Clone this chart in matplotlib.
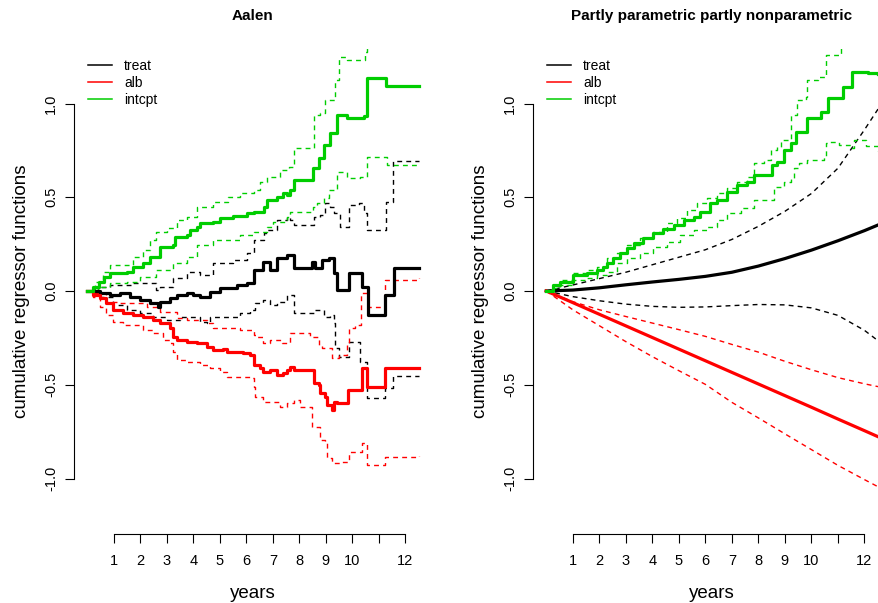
import matplotlib.pyplot as plt

plt.rcParams['font.family'] = ['Liberation Sans', 'DejaVu Sans']
plt.rcParams['axes.unicode_minus'] = False

GREEN = '#00CD00'
RED = '#FF0000'
BLACK = '#000000'

# ---- Aalen model: step functions, (years, value) at each jump ----
aalen_treat = [(0, 0), (0.47, -0.01), (0.85, -0.02), (1.23, -0.01), (1.60, -0.03), (1.98, -0.05),
               (2.36, -0.064), (2.66, -0.084), (2.74, -0.057), (3.12, -0.039), (3.37, -0.021),
               (3.75, -0.012), (3.99, -0.02), (4.25, -0.03), (4.63, -0.004), (5.01, 0.015),
               (5.64, 0.032), (6.02, 0.041), (6.27, 0.069), (6.30, 0.112), (6.64, 0.156),
               (6.90, 0.112), (7.15, 0.174), (7.53, 0.192), (7.78, 0.121), (8.47, 0.156),
               (8.60, 0.121), (8.85, 0.165), (9.10, 0.174), (9.29, 0.094), (9.42, 0.005),
               (9.86, 0.094), (10.36, 0.023), (10.58, -0.128), (11.21, -0.021), (11.56, 0.121),
               (12.51, 0.121)]
aalen_treat_hi = [(0, 0), (0.4, 0.02), (0.85, 0.032), (1.73, 0.041), (2.61, 0.005), (2.74, 0.023),
                  (3.24, 0.068), (3.75, 0.103), (4.25, 0.085), (4.76, 0.148), (5.51, 0.165),
                  (6.02, 0.201), (6.27, 0.272), (6.65, 0.308), (6.77, 0.325), (7.15, 0.379),
                  (7.53, 0.396), (7.65, 0.379), (7.78, 0.352), (8.54, 0.396), (8.79, 0.405),
                  (8.98, 0.468), (9.17, 0.45), (9.29, 0.414), (9.54, 0.343), (9.86, 0.459),
                  (10.24, 0.468), (10.43, 0.414), (10.55, 0.325), (11.25, 0.476), (11.54, 0.693),
                  (12.51, 0.693)]
aalen_treat_lo = [(0, 0), (0.47, -0.03), (0.97, -0.075), (1.48, -0.101), (1.98, -0.119),
                  (2.49, -0.137), (2.99, -0.155), (3.50, -0.137), (4.25, -0.164), (4.50, -0.173),
                  (4.63, -0.137), (5.76, -0.119), (6.14, -0.101), (6.33, -0.066), (6.64, -0.048),
                  (6.90, -0.075), (7.15, -0.057), (7.53, -0.021), (7.78, -0.119), (8.54, -0.101),
                  (8.91, -0.137), (9.17, -0.128), (9.29, -0.173), (9.36, -0.306), (9.48, -0.35),
                  (9.86, -0.27), (10.30, -0.377), (10.56, -0.572), (11.21, -0.519), (11.54, -0.453),
                  (12.51, -0.453)]

aalen_alb = [(0, 0), (0.22, -0.021), (0.47, -0.039), (0.72, -0.066), (0.97, -0.101), (1.35, -0.119),
             (1.73, -0.128), (2.11, -0.137), (2.49, -0.155), (2.74, -0.173), (3.12, -0.199),
             (3.24, -0.244), (3.37, -0.261), (3.75, -0.27), (4.13, -0.279), (4.50, -0.297),
             (4.75, -0.315), (5.13, -0.311), (5.26, -0.324), (5.89, -0.332), (6.14, -0.341),
             (6.27, -0.395), (6.52, -0.413), (6.64, -0.43), (6.90, -0.421), (7.15, -0.448),
             (7.40, -0.439), (7.53, -0.421), (7.65, -0.404), (7.78, -0.421), (8.54, -0.492),
             (8.72, -0.501), (8.79, -0.546), (8.98, -0.564), (9.04, -0.608), (9.23, -0.635),
             (9.29, -0.59), (9.42, -0.599), (9.82, -0.528), (10.36, -0.413), (10.55, -0.51),
             (11.21, -0.413), (12.51, -0.408)]
aalen_alb_hi = [(0, 0), (0.22, -0.012), (0.72, -0.057), (1.23, -0.066), (2.24, -0.084), (2.74, -0.11),
                (3.37, -0.146), (3.75, -0.155), (4.50, -0.173), (4.75, -0.199), (5.76, -0.208),
                (6.27, -0.235), (6.40, -0.244), (6.64, -0.279), (6.90, -0.261), (7.34, -0.279),
                (7.65, -0.226), (8.41, -0.244), (8.72, -0.288), (8.85, -0.306), (9.23, -0.359),
                (9.48, -0.341), (9.80, -0.279), (9.86, -0.199), (10.10, -0.181), (10.33, -0.012),
                (10.58, -0.084), (11.21, 0.059), (12.51, 0.068)]
aalen_alb_lo = [(0, 0), (0.22, -0.03), (0.47, -0.084), (0.72, -0.128), (0.97, -0.164), (1.35, -0.181),
                (2.11, -0.208), (2.49, -0.226), (2.86, -0.261), (3.12, -0.279), (3.24, -0.324),
                (3.37, -0.368), (3.75, -0.377), (4.25, -0.395), (4.63, -0.413), (5.0, -0.43),
                (5.27, -0.457), (6.14, -0.466), (6.27, -0.51), (6.33, -0.564), (6.64, -0.59),
                (7.28, -0.617), (7.53, -0.599), (7.78, -0.581), (8.03, -0.617), (8.48, -0.724),
                (8.79, -0.795), (8.98, -0.812), (9.04, -0.892), (9.23, -0.919), (9.61, -0.91),
                (9.86, -0.857), (10.36, -0.812), (10.55, -0.928), (11.21, -0.884), (12.51, -0.88)]

aalen_intcpt = [(0, 0), (0.2, 0.02), (0.45, 0.05), (0.65, 0.075), (0.85, 0.094), (1.48, 0.103),
                (1.73, 0.13), (2.11, 0.148), (2.36, 0.183), (2.74, 0.236), (3.24, 0.245),
                (3.31, 0.29), (3.75, 0.299), (3.87, 0.325), (4.13, 0.343), (4.25, 0.361),
                (4.76, 0.37), (5.01, 0.388), (5.51, 0.40), (6.02, 0.414), (6.27, 0.423),
                (6.65, 0.45), (6.77, 0.485), (7.15, 0.503), (7.40, 0.521), (7.53, 0.512),
                (7.65, 0.539), (7.78, 0.592), (8.50, 0.654), (8.73, 0.708), (8.91, 0.779),
                (9.17, 0.841), (9.42, 0.939), (9.80, 0.921), (10.43, 0.933), (10.55, 1.134),
                (11.25, 1.093), (12.51, 1.093)]
aalen_intcpt_hi = [(0, 0), (0.3, 0.05), (0.6, 0.1), (0.85, 0.139), (1.73, 0.183), (2.11, 0.219),
                   (2.35, 0.27), (2.61, 0.316), (2.99, 0.334), (3.37, 0.379), (3.75, 0.396),
                   (4.13, 0.45), (4.76, 0.476), (5.3, 0.50), (5.76, 0.521), (6.27, 0.539),
                   (6.5, 0.58), (6.77, 0.61), (7.28, 0.645), (7.59, 0.663), (7.78, 0.761),
                   (8.54, 0.939), (8.79, 0.948), (8.98, 1.019), (9.36, 1.125), (9.48, 1.25),
                   (9.80, 1.232), (10.49, 1.276), (10.55, 1.48), (12.51, 1.44)]
aalen_intcpt_lo = [(0, 0), (0.4, 0.02), (0.85, 0.041), (1.48, 0.05), (1.98, 0.076), (2.61, 0.112),
                   (3.24, 0.148), (3.75, 0.183), (4.13, 0.245), (4.76, 0.272), (5.76, 0.299),
                   (6.27, 0.316), (6.77, 0.343), (7.02, 0.37), (7.53, 0.396), (7.65, 0.423),
                   (8.50, 0.45), (8.66, 0.468), (8.91, 0.494), (9.10, 0.539), (9.42, 0.636),
                   (9.80, 0.601), (10.30, 0.61), (10.55, 0.716), (11.31, 0.672), (12.51, 0.668)]

# ---- partly parametric model ----
pp_years = [0, 1, 2, 3, 4, 5, 6, 7, 8, 9, 10, 11, 12, 12.51]
pp_treat = [0, 0.005, 0.017, 0.033, 0.048, 0.062, 0.078, 0.1, 0.133, 0.173, 0.218, 0.268, 0.322, 0.352]
pp_treat_hi = [0, 0.032, 0.066, 0.1, 0.14, 0.18, 0.22, 0.275, 0.345, 0.425, 0.52, 0.655, 0.86, 0.97]
pp_treat_lo = [0, -0.03, -0.052, -0.07, -0.082, -0.087, -0.085, -0.078, -0.072, -0.074, -0.09,
               -0.13, -0.21, -0.265]
pp_alb = [0, -0.062, -0.124, -0.186, -0.248, -0.31, -0.372, -0.434, -0.496, -0.558, -0.62,
          -0.683, -0.745, -0.777]
pp_alb_hi = [0, -0.057, -0.1, -0.136, -0.171, -0.206, -0.242, -0.285, -0.326, -0.375, -0.42,
             -0.462, -0.495, -0.51]
pp_alb_lo = [0, -0.10, -0.185, -0.27, -0.35, -0.425, -0.498, -0.594, -0.677, -0.762, -0.846,
             -0.93, -1.006, -1.044]

pp_intcpt = [(0, 0), (0.25, 0.03), (0.51, 0.05), (1.01, 0.085), (1.52, 0.094), (1.90, 0.112),
             (2.15, 0.13), (2.28, 0.148), (2.53, 0.174), (2.78, 0.201), (3.03, 0.228), (3.29, 0.254),
             (3.66, 0.281), (4.04, 0.308), (4.42, 0.329), (4.80, 0.352), (5.18, 0.379),
             (5.56, 0.396), (5.81, 0.423), (6.19, 0.468), (6.44, 0.485), (6.82, 0.53), (7.20, 0.565),
             (7.58, 0.583), (7.83, 0.619), (8.53, 0.672), (8.71, 0.69), (8.97, 0.752), (9.22, 0.788),
             (9.41, 0.85), (9.85, 0.921), (10.36, 0.956), (10.61, 1.028), (11.18, 1.09),
             (11.52, 1.17), (12.12, 1.165), (12.51, 1.158)]
pp_intcpt_hi = [(0, 0), (0.25, 0.03), (0.51, 0.059), (1.01, 0.094), (1.52, 0.112), (1.90, 0.13),
                (2.28, 0.174), (2.65, 0.201), (3.03, 0.245), (3.54, 0.281), (4.04, 0.316),
                (4.55, 0.361), (4.93, 0.388), (5.31, 0.432), (5.68, 0.468), (6.06, 0.494),
                (6.44, 0.521), (6.82, 0.548), (7.20, 0.583), (7.58, 0.61), (7.83, 0.681),
                (8.21, 0.699), (8.46, 0.752), (8.71, 0.77), (8.84, 0.805), (9.22, 0.939),
                (9.47, 1.019), (9.79, 1.036), (9.85, 1.125), (10.23, 1.143), (10.55, 1.259),
                (11.11, 1.294), (11.18, 1.36), (12.51, 1.36)]
pp_intcpt_lo = [(0, 0), (0.25, 0.015), (0.51, 0.032), (1.01, 0.059), (1.52, 0.068), (1.90, 0.085),
                (2.28, 0.103), (2.65, 0.148), (3.03, 0.174), (3.54, 0.201), (4.04, 0.236),
                (4.55, 0.263), (5.05, 0.299), (5.56, 0.325), (6.06, 0.343), (6.44, 0.379),
                (6.82, 0.414), (7.33, 0.441), (7.83, 0.485), (8.59, 0.556), (8.97, 0.583),
                (9.22, 0.601), (9.35, 0.654), (9.54, 0.681), (9.85, 0.699), (10.48, 0.716),
                (10.55, 0.788), (10.61, 0.796), (11.05, 0.78), (11.49, 0.761), (11.62, 0.805),
                (12.05, 0.775), (12.51, 0.745)]

legend_labels = ['treat', 'alb', 'intcpt']
legend_colors = [BLACK, RED, GREEN]
year_ticks = list(range(1, 13))
year_labels = [str(k) if k != 11 else '' for k in year_ticks]
value_ticks = [-1.0, -0.5, 0.0, 0.5, 1.0]
value_labels = ['-1.0', '-0.5', '0.0', '0.5', '1.0']

SOLID_LW = 2.3
DASH_LW = 1.0
DASHES = (3.5, 3.0)


def step(ax, pts, color, dashed=False):
    t = [p[0] for p in pts]
    y = [p[1] for p in pts]
    if dashed:
        ax.step(t, y, where='post', color=color, lw=DASH_LW, dashes=DASHES)
    else:
        ax.step(t, y, where='post', color=color, lw=SOLID_LW)


def curve(ax, y, color, dashed=False):
    if dashed:
        ax.plot(pp_years, y, color=color, lw=DASH_LW, dashes=DASHES)
    else:
        ax.plot(pp_years, y, color=color, lw=SOLID_LW)


def style_axes(ax, title):
    ax.set_xlim(-0.5, 13.0)
    ax.set_ylim(-1.296, 1.296)
    for s in ['top', 'right']:
        ax.spines[s].set_visible(False)
    ax.spines['left'].set_bounds(-1, 1)
    ax.spines['bottom'].set_bounds(1, 12)
    ax.spines['left'].set_linewidth(0.8)
    ax.spines['bottom'].set_linewidth(0.8)
    ax.set_xticks(year_ticks)
    ax.set_xticklabels(year_labels)
    ax.set_yticks(value_ticks)
    ax.set_yticklabels(value_labels, rotation=90, va='center')
    ax.tick_params(length=6.5, width=0.8, labelsize=10.5)
    ax.tick_params(axis='x', pad=8)
    ax.tick_params(axis='y', pad=5)
    ax.set_xlabel('years', fontsize=13.5, labelpad=12)
    ax.set_ylabel('cumulative regressor functions', fontsize=13.5, labelpad=10)
    ax.set_title(title, fontweight='bold', fontsize=11, pad=20)
    handles = [plt.Line2D([], [], color=c, lw=1.1) for c in legend_colors]
    ax.legend(handles, legend_labels, loc='upper left', bbox_to_anchor=(0.039, 0.977),
              frameon=False, fontsize=10, handlelength=1.75, handletextpad=0.85,
              labelspacing=0.2, borderpad=0, borderaxespad=0)


fig = plt.figure(figsize=(8.79, 6.03), dpi=100)
ax1 = fig.add_axes([74 / 879, 69 / 603, 358 / 879, 486 / 603])
ax2 = fig.add_axes([533 / 879, 69 / 603, 358 / 879, 486 / 603])

# left: Aalen
step(ax1, aalen_treat_hi, BLACK, True)
step(ax1, aalen_treat_lo, BLACK, True)
step(ax1, aalen_alb_hi, RED, True)
step(ax1, aalen_alb_lo, RED, True)
step(ax1, aalen_intcpt_hi, GREEN, True)
step(ax1, aalen_intcpt_lo, GREEN, True)
step(ax1, aalen_treat, BLACK)
step(ax1, aalen_alb, RED)
step(ax1, aalen_intcpt, GREEN)
style_axes(ax1, 'Aalen')

# right: partly parametric
curve(ax2, pp_treat_hi, BLACK, True)
curve(ax2, pp_treat_lo, BLACK, True)
curve(ax2, pp_alb_hi, RED, True)
curve(ax2, pp_alb_lo, RED, True)
step(ax2, pp_intcpt_hi, GREEN, True)
step(ax2, pp_intcpt_lo, GREEN, True)
curve(ax2, pp_treat, BLACK)
curve(ax2, pp_alb, RED)
step(ax2, pp_intcpt, GREEN)
style_axes(ax2, 'Partly parametric partly nonparametric')

fig.savefig('out.png', dpi=100)
